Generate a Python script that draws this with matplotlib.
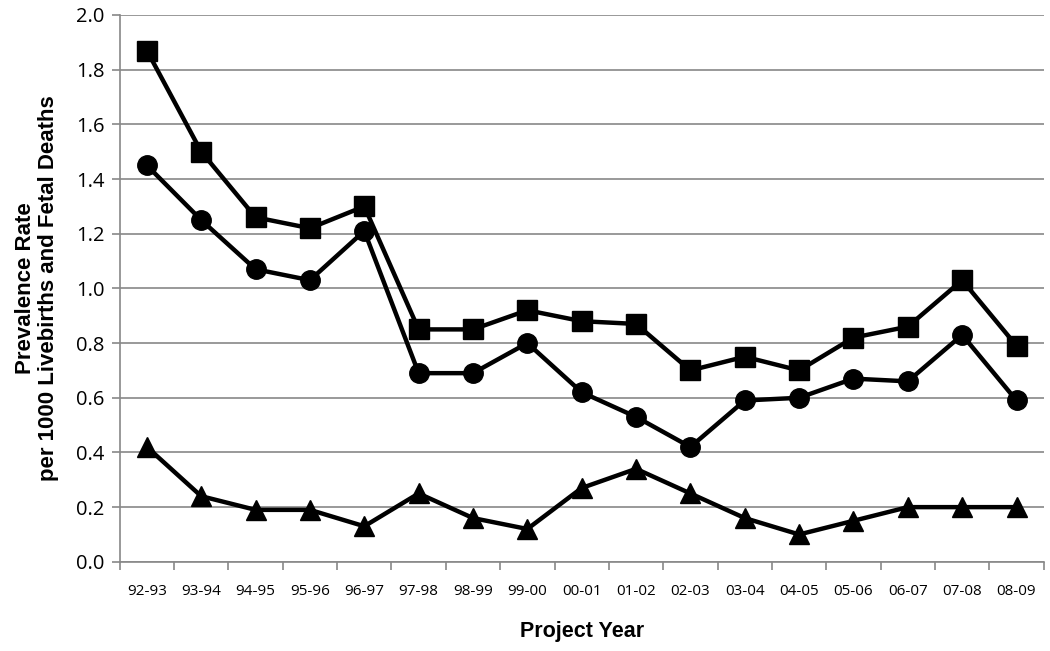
import numpy as np
import matplotlib
matplotlib.use("Agg")
import matplotlib.pyplot as plt

plt.rcParams['font.family'] = ['Open Sans', 'DejaVu Sans']

years = ["92-93", "93-94", "94-95", "95-96", "96-97", "97-98", "98-99", "99-00",
         "00-01", "01-02", "02-03", "03-04", "04-05", "05-06", "06-07", "07-08", "08-09"]
squares = [1.87, 1.50, 1.26, 1.22, 1.30, 0.85, 0.85, 0.92, 0.88, 0.87,
           0.70, 0.75, 0.70, 0.82, 0.86, 1.03, 0.79]
circles = [1.45, 1.25, 1.07, 1.03, 1.21, 0.69, 0.69, 0.80, 0.62, 0.53,
           0.42, 0.59, 0.60, 0.67, 0.66, 0.83, 0.59]
triangles = [0.42, 0.24, 0.19, 0.19, 0.13, 0.25, 0.16, 0.12, 0.27, 0.34,
             0.25, 0.16, 0.10, 0.15, 0.20, 0.20, 0.20]

fig = plt.figure(figsize=(10.5, 6.51), dpi=100)
ax = fig.add_axes([0.114, 0.137, 0.880, 0.840])

x = np.arange(len(years))
ax.plot(x, squares, color='black', lw=3.2, marker='s', ms=14, zorder=3)
ax.plot(x, circles, color='black', lw=3.2, marker='o', ms=14, zorder=3)
ax.plot(x, triangles, color='black', lw=3.2, marker='^', ms=15, zorder=3)

ax.set_xlim(-0.5, len(years) - 0.5)
ax.set_ylim(0, 2.0)
ax.set_yticks(np.arange(0, 2.01, 0.2))
ax.set_yticklabels([f"{v:.1f}" for v in np.arange(0, 2.01, 0.2)], fontsize=14.5)
ax.set_xticks(x)
ax.set_xticklabels(years, fontsize=11)
ax.set_xticks(np.arange(-0.5, len(years)), minor=True)
ax.tick_params(axis='x', which='major', length=0, pad=16)
ax.tick_params(axis='x', which='minor', length=6, color='#888888', width=1.2)
ax.tick_params(axis='y', length=6, color='#888888', width=1.2, pad=5)

ax.grid(axis='y', color='#888888', lw=1.2)
ax.set_axisbelow(True)
for s in ['top', 'right']:
    ax.spines[s].set_visible(False)
for s in ['left', 'bottom']:
    ax.spines[s].set_color('#888888')
    ax.spines[s].set_linewidth(1.2)

ax.set_xlabel("Project Year", fontsize=15.5, fontweight='bold', labelpad=16,
              family='Liberation Sans')
ax.set_ylabel("Prevalence Rate\nper 1000 Livebirths and Fetal Deaths",
              fontsize=16, fontweight='bold', labelpad=12, family='Liberation Sans',
              linespacing=1.15)

fig.savefig("out.png", dpi=100)
